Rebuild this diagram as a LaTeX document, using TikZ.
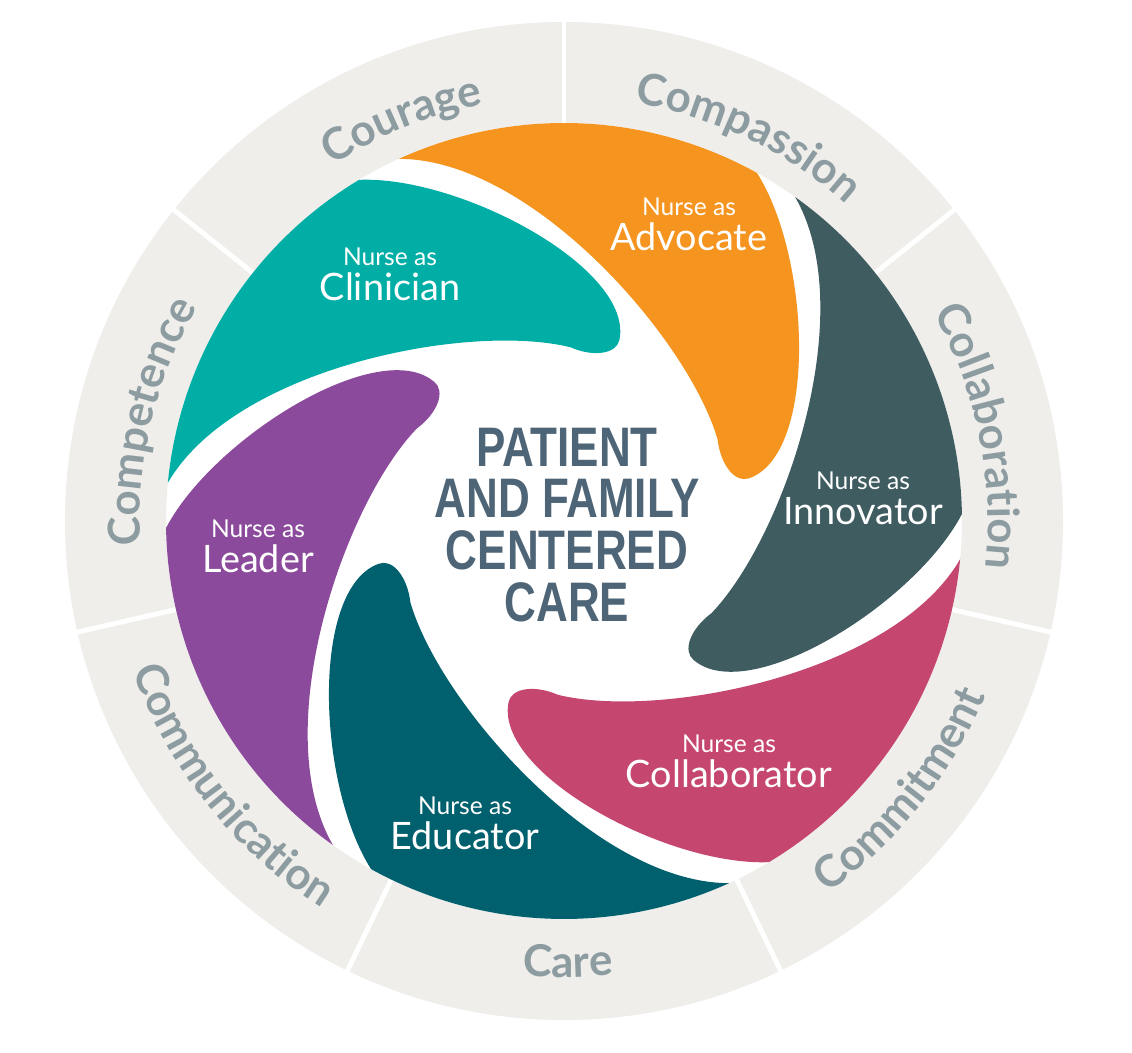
\documentclass[tikz,border=0pt]{standalone}
\usepackage{fontspec}
\setmainfont{Lato}
\newfontfamily\ringfamily[LetterSpace=4]{Lato}
\newfontfamily\hubfamily[FakeStretch=0.79]{Liberation Sans}
\usetikzlibrary{decorations.text}

\definecolor{ringgray}{HTML}{EFEEEB}
\definecolor{ringtext}{HTML}{8D9CA1}
\definecolor{hubtext}{HTML}{4D6577}
\definecolor{clinician}{HTML}{00AEA6}
\definecolor{advocate}{HTML}{F5941F}
\definecolor{innovator}{HTML}{3F5C61}
\definecolor{collab}{HTML}{C5466F}
\definecolor{educator}{HTML}{00606E}
\definecolor{leader}{HTML}{8B4A9B}

\newcommand\ringfont{\ringfamily\fontsize{25}{25}\selectfont\bfseries\color{ringtext}}

\tikzset{
  ring word/.style={decorate,
    decoration={text along path, text align=center, text={|\ringfont|#1}}},
  spoke/.style={white, line width=2.8pt},
  role/.style={anchor=base, inner sep=0pt, text=white,
    font=\fontsize{21.5}{23}\selectfont},
  nurse/.style={anchor=base, inner sep=0pt, text=white,
    font=\fontsize{14}{16}\selectfont},
  hub/.style={align=center, inner sep=0pt, text=hubtext,
    font=\hubfamily\bfseries\fontsize{31.7}{29.5}\selectfont}
}

\begin{document}
\begin{tikzpicture}[x=0.02cm, y=0.02cm]
\useasboundingbox (-564,-532) rectangle (568,521);

% --- outer ring of values ---------------------------------------------------
\fill[white] (0,0) circle (504);
\fill[ringgray, even odd rule] (0,0) circle (499) (0,0) circle (398);
\foreach \k in {0,...,6}
  \draw[spoke] (90-\k*360/7:398) -- (90-\k*360/7:504);

% words read clockwise on the upper part, anticlockwise below
\path[ring word=Courage]       (172:424)    arc[start angle=172, end angle=52, radius=424];
\path[ring word=Compassion]    (124.29:424) arc[start angle=124.29, end angle=4.29, radius=424];
\path[ring word=Collaboration] (71.5:424)   arc[start angle=71.5, end angle=-48.5, radius=424];
\path[ring word=Competence]    (226.5:424)  arc[start angle=226.5, end angle=106.5, radius=424];
\path[ring word=Commitment]    (-98.57:456) arc[start angle=-98.57, end angle=21.43, radius=456];
\path[ring word=Care]          (-149.5:456) arc[start angle=-149.5, end angle=-29.5, radius=456];
\path[ring word=Communication] (158.57:456) arc[start angle=158.57, end angle=278.57, radius=456];

% --- six swirl blades (same outline, turned by 60 degrees) ------------------
% tail on the rim, outer arc, leading edge down to the tip, inner edge back
\foreach \ang/\col in {13/advocate, 73/clinician, 133/leader,
                       193/educator, 253/collab, 313/innovator} {
  \begin{scope}[rotate=\ang]
    \fill[\col] (101.5:398) arc[start angle=101.5, end angle=48, radius=398]
      .. controls (300,200) and (262,8) .. (190,0)
      .. controls (176,-2) and (165,18) .. (168,45)
      .. controls (162,150) and (50,360) .. cycle;
  \end{scope}
}

% --- blade labels -----------------------------------------------------------
\foreach \name/\role/\x/\y in {advocate/Advocate/125/270,
    clinician/Clinician/-174/220, innovator/Innovator/299/-4,
    leader/Leader/-306/-52, educator/Educator/-99/-329,
    collaborator/Collaborator/165/-267} {
  \node[role] (\name) at (\x,\y) {\role};
  \node[nurse] (\name-nurse) at (\x,\y+35) {Nurse as};
}

% --- centre -----------------------------------------------------------------
\node[hub] (hub) at (3,-4) {PATIENT\\AND FAMILY\\CENTERED\\CARE};

\end{tikzpicture}
\end{document}
